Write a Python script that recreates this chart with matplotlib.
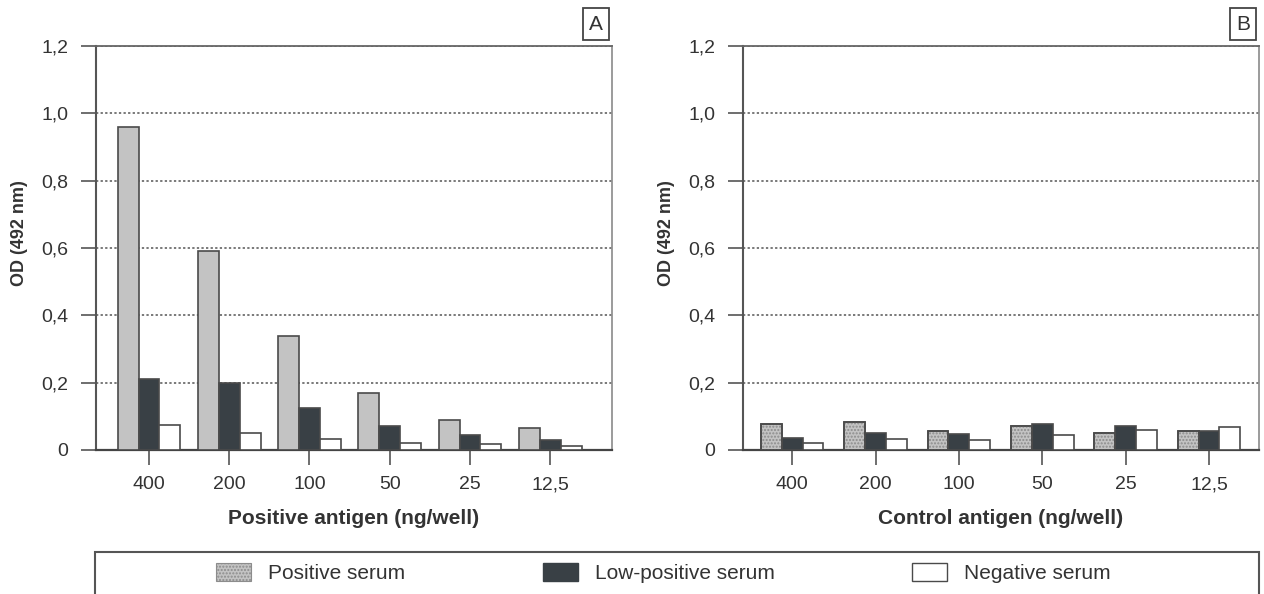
import matplotlib
matplotlib.use("Agg")
import matplotlib.pyplot as plt
from matplotlib.patches import Rectangle, Patch
import numpy as np

plt.rcParams['font.family'] = ['Liberation Sans', 'DejaVu Sans']

# data
doses = ['400', '200', '100', '50', '25', '12,5']
series = ['Positive serum', 'Low-positive serum', 'Negative serum']

pos_antigen_pos = [0.96, 0.59, 0.34, 0.17, 0.088, 0.065]
pos_antigen_low = [0.21, 0.20, 0.125, 0.07, 0.045, 0.031]
pos_antigen_neg = [0.075, 0.05, 0.034, 0.021, 0.018, 0.012]

ctrl_antigen_pos = [0.076, 0.082, 0.055, 0.072, 0.050, 0.056]
ctrl_antigen_low = [0.036, 0.051, 0.047, 0.076, 0.071, 0.056]
ctrl_antigen_neg = [0.020, 0.033, 0.029, 0.046, 0.058, 0.069]

yticks = [0, 0.2, 0.4, 0.6, 0.8, 1.0, 1.2]
ytick_labels = ['0', '0,2', '0,4', '0,6', '0,8', '1,0', '1,2']

c_pos = '#c3c3c3'
c_low = '#394045'
c_neg = '#ffffff'
c_edge = '#4a4a4a'

fig = plt.figure(figsize=(12.64, 5.94), dpi=100)
W, H = 1264, 594


def panel(left_px, right_px, vals, xlim, width, xlabel, letter, stipple):
    ax = fig.add_axes([left_px / W, (H - 450) / H,
                       (right_px - left_px) / W, (450 - 46) / H])
    x = np.arange(len(doses))
    ax.bar(x - width, vals[0], width, color=c_pos, edgecolor=c_edge,
           linewidth=1.2, zorder=3)
    if stipple:
        ax.bar(x - width, vals[0], width, facecolor='none',
               edgecolor='#8c8c8c', hatch='.....', linewidth=0, zorder=3.5)
        ax.bar(x - width, vals[0], width, facecolor='none',
               edgecolor=c_edge, linewidth=1.2, zorder=3.6)
    ax.bar(x, vals[1], width, color=c_low, edgecolor=c_edge,
           linewidth=1.2, zorder=3)
    ax.bar(x + width, vals[2], width, color=c_neg, edgecolor=c_edge,
           linewidth=1.2, zorder=3)

    ax.set_xlim(*xlim)
    ax.set_ylim(0, 1.2)
    ax.set_yticks(yticks)
    ax.set_yticklabels(ytick_labels, fontsize=14, color='#333333')
    ax.set_xticks(x)
    ax.set_xticklabels(doses, fontsize=14, color='#333333')
    ax.tick_params(axis='y', length=11, width=1.2, color='#555555', pad=9)
    ax.tick_params(axis='x', length=11, width=1.2, color='#555555', pad=8)

    ax.yaxis.grid(True, linestyle=(0, (1.5, 1.5)), linewidth=1.1,
                  color='#555555')
    ax.set_axisbelow(True)

    ax.spines['left'].set_color('#555555')
    ax.spines['left'].set_linewidth(1.5)
    ax.spines['bottom'].set_color('#444444')
    ax.spines['bottom'].set_linewidth(1.6)
    ax.spines['top'].set_color('#666666')
    ax.spines['top'].set_linewidth(1.3)
    ax.spines['right'].set_color('#8a8a8a')
    ax.spines['right'].set_linewidth(1.2)

    ax.set_xlabel(xlabel, fontsize=15, fontweight='bold', color='#333333')
    ax.xaxis.set_label_coords(0.5, -0.145)
    ax.set_ylabel('OD (492 nm)', fontsize=13, fontweight='bold',
                  color='#333333')
    ax.yaxis.set_label_coords(-0.132, 0.537)

    # panel letter in a small box
    fig.text((right_px - 16) / W, 1 - 24 / H, letter, fontsize=15,
             color='#333333', ha='center', va='center',
             bbox=dict(boxstyle='square,pad=0.3', facecolor='white',
                       edgecolor='#444444', linewidth=1.3))
    return ax


panel(96, 612, [pos_antigen_pos, pos_antigen_low, pos_antigen_neg],
      (-0.66, 5.77), 0.26, 'Positive antigen (ng/well)', 'A', False)
panel(743, 1259, [ctrl_antigen_pos, ctrl_antigen_low, ctrl_antigen_neg],
      (-0.59, 5.6), 0.25, 'Control antigen (ng/well)', 'B', True)

# legend frame running off the bottom of the figure
fig.patches.append(Rectangle((95 / W, -0.05), (1259 - 95) / W,
                             0.05 + (H - 552) / H, transform=fig.transFigure,
                             facecolor='none', edgecolor='#555555',
                             linewidth=1.5))

handles = [Patch(facecolor=c_pos, edgecolor='#8c8c8c', hatch='.....', linewidth=0.8),
           Patch(facecolor=c_low, edgecolor=c_low),
           Patch(facecolor=c_neg, edgecolor=c_edge, linewidth=1.0)]
fig.legend(handles, series, ncol=3, loc='center left',
           bbox_to_anchor=(216 / W, 1 - 573 / H), frameon=False,
           fontsize=15, handlelength=1.68, handleheight=1.0,
           handletextpad=0.82, columnspacing=6.6, borderpad=0,
           borderaxespad=0, labelcolor='#333333')

fig.savefig('out.png', dpi=100, facecolor='white')
